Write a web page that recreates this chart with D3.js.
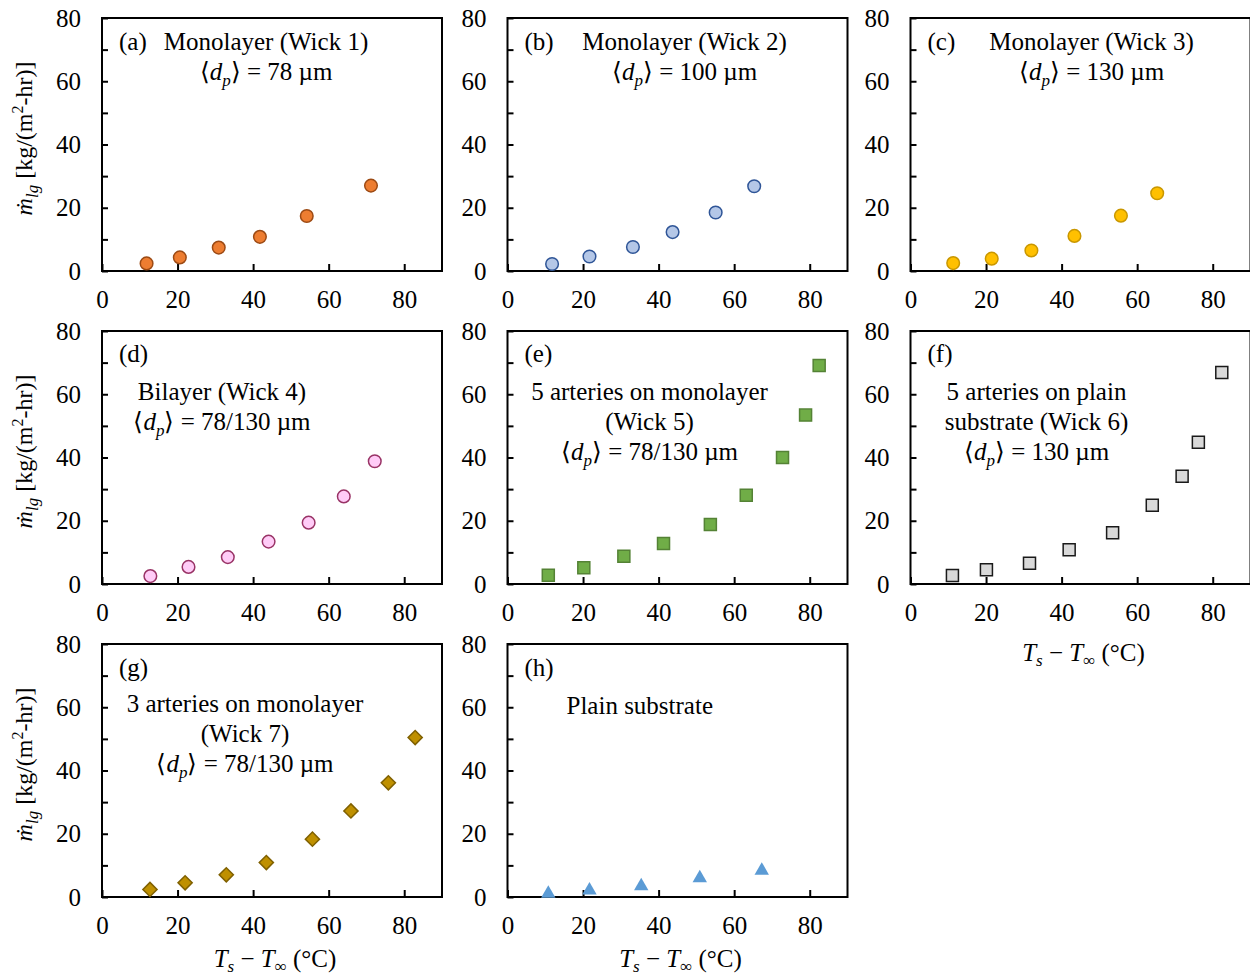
<!DOCTYPE html>
<html>
<head>
<meta charset="utf-8">
<script src="https://cdn.jsdelivr.net/npm/d3@7"></script>
<style>
  body { margin: 0; background: #fff; }
  svg text { font-family: "Liberation Serif", "Times New Roman", serif; fill: #000; }
</style>
</head>
<body>
<div id="chart"></div>
<script>
// tick values
var xTicks = [0, 20, 40, 60, 80];
var yTicks = [0, 10, 20, 30, 40, 50, 60, 70, 80];

// (a) Wick 1
var tA = [11.8, 20.6, 30.9, 41.8, 54.2, 71.2];
var mA = [2.4, 4.3, 7.4, 10.8, 17.4, 27.0];
// (b) Wick 2
var tB = [11.8, 21.7, 33.2, 43.7, 55.1, 65.3];
var mB = [2.2, 4.6, 7.6, 12.3, 18.5, 26.8];
// (c) Wick 3
var tC = [11.3, 21.5, 32.0, 43.4, 55.7, 65.3];
var mC = [2.5, 3.9, 6.5, 11.1, 17.5, 24.6];
// (d) Wick 4
var tD = [12.8, 22.9, 33.3, 44.1, 54.7, 64.0, 72.2];
var mD = [2.5, 5.4, 8.5, 13.4, 19.4, 27.7, 38.8];
// (e) Wick 5
var tE = [10.8, 20.2, 30.8, 41.3, 53.7, 63.2, 72.8, 78.9, 82.5];
var mE = [2.8, 5.1, 8.8, 12.8, 18.8, 28.1, 40.0, 53.4, 69.1];
// (f) Wick 6
var tF = [11.1, 20.1, 31.5, 42.0, 53.5, 64.0, 71.9, 76.2, 82.4];
var mF = [2.7, 4.5, 6.6, 10.8, 16.2, 24.9, 34.1, 44.8, 66.9];
// (g) Wick 7
var tG = [12.7, 22.0, 32.9, 43.5, 55.7, 65.9, 75.8, 82.9];
var mG = [2.4, 4.5, 7.0, 10.9, 18.3, 27.2, 36.1, 50.4];
// (h) plain substrate
var tH = [10.8, 21.7, 35.4, 50.9, 67.3];
var mH = [1.4, 2.4, 3.8, 6.3, 8.7];

var panelLetters = ["(a)", "(b)", "(c)", "(d)", "(e)", "(f)", "(g)", "(h)"];

var W = 1250, H = 977;
var colX = [102, 507.5, 910.5], rowY = [18, 331, 644];
var pw = 340, ph = 253;

var svg = d3.select("#chart").append("svg")
  .attr("width", W).attr("height", H);

// panel table built from the arrays above
var panels = [
  {col: 0, row: 0, t: tA, m: mA, shape: "circle", fill: "#ED7D31", stroke: "#9C4A14", ylab: true},
  {col: 1, row: 0, t: tB, m: mB, shape: "circle", fill: "#B4C7E7", stroke: "#2F5597"},
  {col: 2, row: 0, t: tC, m: mC, shape: "circle", fill: "#FFC000", stroke: "#C99700"},
  {col: 0, row: 1, t: tD, m: mD, shape: "circle", fill: "#FFCCF7", stroke: "#993366", ylab: true},
  {col: 1, row: 1, t: tE, m: mE, shape: "square", fill: "#70AD47", stroke: "#548235"},
  {col: 2, row: 1, t: tF, m: mF, shape: "square", fill: "#D9D9D9", stroke: "#1a1a1a", xlab: 77},
  {col: 0, row: 2, t: tG, m: mG, shape: "diamond", fill: "#BF9000", stroke: "#7F6000", ylab: true, xlab: 70},
  {col: 1, row: 2, t: tH, m: mH, shape: "triangle", fill: "#5B9BD5", stroke: "none", xlab: 70}
];

var x = d3.scaleLinear().domain([0, 90]).range([0, pw]);
var y = d3.scaleLinear().domain([0, 80]).range([ph, 0]);

var symbols = {
  circle: d3.symbol().type(d3.symbolCircle).size(Math.PI * 6.3 * 6.3),
  square: d3.symbol().type(d3.symbolSquare).size(12 * 12),
  diamond: d3.symbol().type(d3.symbolSquare).size(10 * 10),
  triangle: d3.symbol().type(d3.symbolTriangle).size(90)
};

// helper: write <d_p> = ... line
function dpLine(g, cx, yb, value) {
  var t = g.append("text").attr("x", cx).attr("y", yb)
    .attr("text-anchor", "middle").attr("font-size", 25);
  t.append("tspan").text("\u27E8");
  t.append("tspan").attr("font-style", "italic").text("d");
  t.append("tspan").attr("font-style", "italic").attr("font-size", 17).attr("dy", 6).text("p");
  t.append("tspan").attr("dy", -6).text("\u27E9 = " + value + " \u00B5m");
}

function lines(g, cx, y0, arr) {
  arr.forEach(function (s, i) {
    g.append("text").attr("x", cx).attr("y", y0 + i * 30)
      .attr("text-anchor", "middle").attr("font-size", 25).text(s);
  });
}

var groups = [];

panels.forEach(function (p, i) {
  var g = svg.append("g")
    .attr("transform", "translate(" + colX[p.col] + "," + rowY[p.row] + ")");
  groups.push(g);

  // y axis, ticks pointing inward
  var ya = g.append("g")
    .call(d3.axisLeft(y).tickValues(yTicks)
      .tickFormat(function (d) { return d % 20 === 0 ? d : ""; })
      .tickSizeInner(-6).tickSizeOuter(0).tickPadding(21));
  // x axis
  var xa = g.append("g").attr("transform", "translate(0," + ph + ")")
    .call(d3.axisBottom(x).tickValues(xTicks)
      .tickSizeInner(-7).tickSizeOuter(0).tickPadding(19));
  [ya, xa].forEach(function (a) {
    a.select(".domain").remove();
    a.selectAll("line").attr("stroke", "#000").attr("stroke-width", 2);
    a.selectAll("text").attr("font-size", 25).attr("font-family", "Liberation Serif");
  });

  // frame
  g.append("rect").attr("width", pw).attr("height", ph)
    .attr("fill", "none").attr("stroke", "#000").attr("stroke-width", 2);

  // points
  var pts = p.t.map(function (t, k) { return [t, p.m[k]]; });
  g.selectAll(".pt").data(pts).enter().append("path")
    .attr("class", "pt")
    .attr("d", symbols[p.shape])
    .attr("transform", function (d) {
      return "translate(" + x(d[0]) + "," + (y(d[1]) + (p.shape === "triangle" ? 1 : 0)) + ")" +
        (p.shape === "diamond" ? " rotate(45)" : "");
    })
    .attr("fill", p.fill)
    .attr("stroke", p.stroke)
    .attr("stroke-width", 1.5);

  // panel letter
  g.append("text").attr("x", 17).attr("y", p.row === 1 ? 31 : 32)
    .attr("font-size", 25).text(panelLetters[i]);

  // y label
  if (p.ylab) {
    var yl = svg.append("text")
      .attr("transform", "translate(32," + (rowY[p.row] + ph / 2 - 6) + ") rotate(-90)")
      .attr("text-anchor", "middle").attr("font-size", 24);
    yl.append("tspan").attr("font-style", "italic").text("\u1E41");
    yl.append("tspan").attr("font-style", "italic").attr("font-size", 17).attr("dy", 6).text("lg");
    yl.append("tspan").attr("dy", -6).text(" [kg/(m");
    yl.append("tspan").attr("font-size", 16).attr("dy", -9).text("2");
    yl.append("tspan").attr("dy", 9).text("-hr)]");
  }
  // x label
  if (p.xlab) {
    var xl = g.append("text").attr("x", pw / 2 + 3).attr("y", ph + p.xlab)
      .attr("text-anchor", "middle").attr("font-size", 25);
    xl.append("tspan").attr("font-style", "italic").text("T");
    xl.append("tspan").attr("font-style", "italic").attr("font-size", 17).attr("dy", 5).text("s");
    xl.append("tspan").attr("dy", -5).text(" \u2212 ");
    xl.append("tspan").attr("font-style", "italic").text("T");
    xl.append("tspan").attr("font-size", 17).attr("dy", 5).text("\u221E");
    xl.append("tspan").attr("dy", -5).text(" (\u00B0C)");
  }
});

// panel annotations
lines(groups[0], 164, 32, ["Monolayer (Wick 1)"]);
dpLine(groups[0], 164, 62, "78");
lines(groups[1], 177, 32, ["Monolayer (Wick 2)"]);
dpLine(groups[1], 177, 62, "100");
lines(groups[2], 181, 32, ["Monolayer (Wick 3)"]);
dpLine(groups[2], 181, 62, "130");
lines(groups[3], 120, 69, ["Bilayer (Wick 4)"]);
dpLine(groups[3], 120, 99, "78/130");
lines(groups[4], 142, 69, ["5 arteries on monolayer", "(Wick 5)"]);
dpLine(groups[4], 142, 129, "78/130");
lines(groups[5], 126, 69, ["5 arteries on plain", "substrate (Wick 6)"]);
dpLine(groups[5], 126, 129, "130");
lines(groups[6], 143, 68, ["3 arteries on monolayer", "(Wick 7)"]);
dpLine(groups[6], 143, 128, "78/130");
groups[7].append("text").attr("x", 59).attr("y", 70).attr("font-size", 25).text("Plain substrate");
</script>
</body>
</html>
